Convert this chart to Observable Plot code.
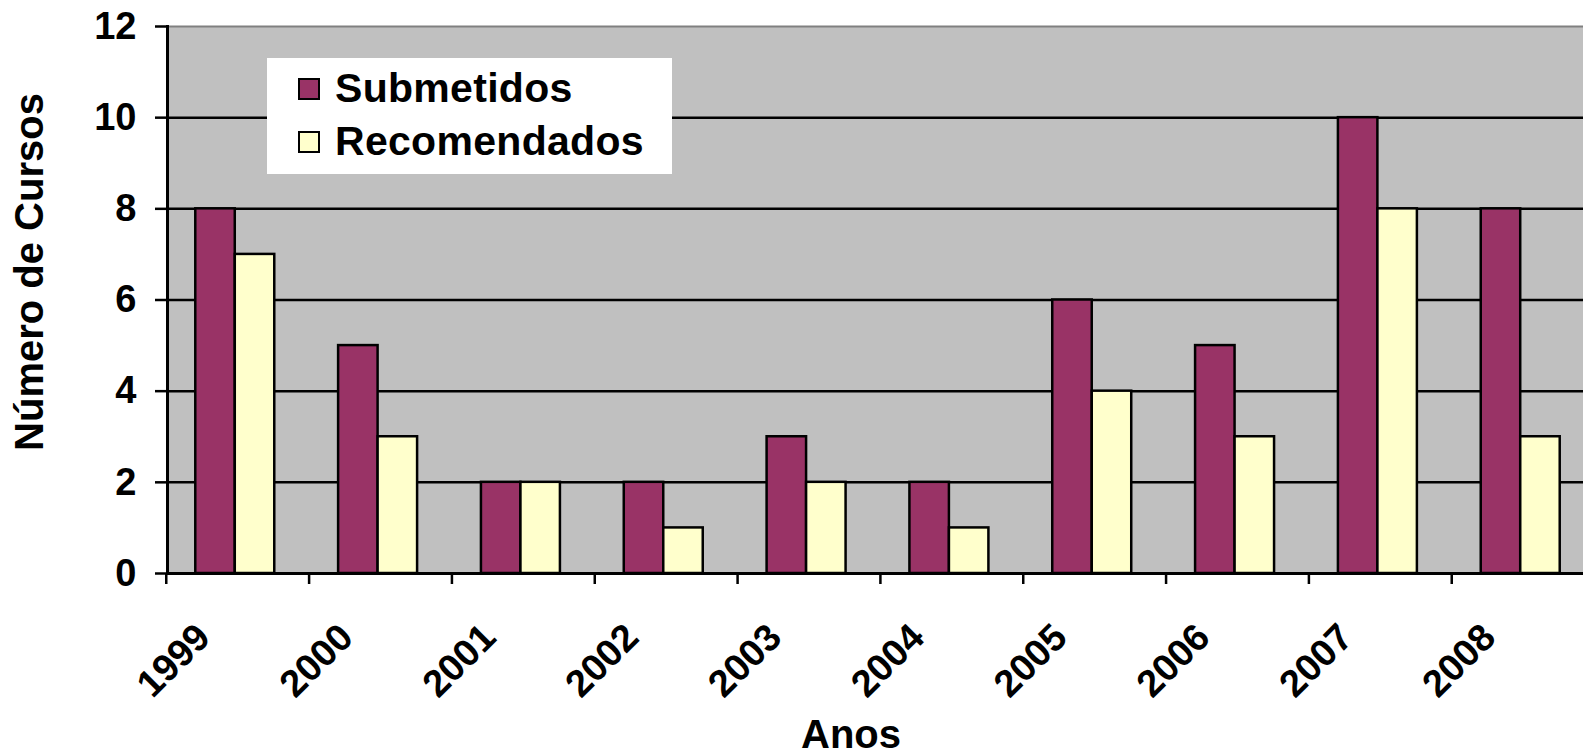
<!DOCTYPE html>
<html>
<head>
<meta charset="utf-8">
<script src="https://cdn.jsdelivr.net/npm/d3@7"></script>
<script src="https://cdn.jsdelivr.net/npm/@observablehq/plot@0.6"></script>
<style>
  html, body { margin: 0; padding: 0; overflow: hidden; background: #fff; }
  #wrap { position: relative; width: 1583px; height: 755px; overflow: hidden; }
  #legend {
    position: absolute; left: 267px; top: 58px; width: 405px; height: 116px;
    background: #fff; font-family: "Liberation Sans", Arial, sans-serif; font-weight: bold;
    font-size: 41px; color: #000;
  }
  .item { position: absolute; left: 31px; display: flex; align-items: center; letter-spacing: 0.3px; line-height: 47px; }
  .sw { width: 18px; height: 18px; border: 2.5px solid #000; margin-right: 15px; }
</style>
</head>
<body>
<div id="wrap"></div>
<script>
const years = ["1999","2000","2001","2002","2003","2004","2005","2006","2007","2008"];
const submetidos = [8, 5, 2, 2, 3, 2, 6, 5, 10, 8];
const recomendados = [7, 3, 2, 1, 2, 1, 4, 3, 8, 3];
const seriesNames = ["Submetidos", "Recomendados"];
const seriesColors = ["#993366", "#FFFFCC"];
const yTicks = [0, 2, 4, 6, 8, 10, 12];
const xTitle = "Anos";
const yTitle = "Número de Cursos";

const font = "'Liberation Sans', Arial, sans-serif";

const chart = Plot.plot({
  width: 1588,
  height: 755,
  marginLeft: 167,
  marginRight: 0,
  marginTop: 26,
  marginBottom: 182,
  style: {fontFamily: font, fontWeight: "bold", color: "#000", background: "#fff", maxWidth: "none"},
  x: {domain: years, paddingInner: 0.447, paddingOuter: 0.198, round: false},
  y: {domain: [0, 12]},
  marks: [
    Plot.frame({fill: "#C0C0C0", stroke: "#808080", strokeWidth: 2}),
    Plot.gridY(yTicks.slice(0, -1), {stroke: "#000", strokeOpacity: 1, strokeWidth: 2.5}),
    Plot.barY(years, {x: d => d, y: (d, i) => submetidos[i], fill: seriesColors[0], stroke: "#000", strokeWidth: 2.5, insetRight: 39.5}),
    Plot.barY(years, {x: d => d, y: (d, i) => recomendados[i], fill: seriesColors[1], stroke: "#000", strokeWidth: 2.5, insetLeft: 39.5}),
    Plot.ruleY([0], {stroke: "#000", strokeWidth: 3}),
    Plot.frame({anchor: "left", stroke: "#000", strokeWidth: 3}),
    Plot.axisY({ticks: yTicks, tickSize: 12, tickPadding: 19, fontSize: 38, fontWeight: "bold", strokeWidth: 2.5, label: null}),
    Plot.axisX({tickSize: 11, fill: "none", strokeWidth: 2.5, dx: -69, label: null}),
    Plot.text(years, {x: d => d, text: d => d, frameAnchor: "bottom", rotate: -45, textAnchor: "end", lineAnchor: "bottom", dx: -23, dy: 66, fontSize: 38, fontWeight: "bold"}),
    Plot.text([xTitle], {text: d => d, frameAnchor: "bottom", lineAnchor: "middle", dx: -27, dy: 162, fontSize: 40, fontWeight: "bold"}),
    Plot.text([yTitle], {text: d => d, frameAnchor: "left", rotate: -90, textAnchor: "middle", lineAnchor: "middle", dx: -137, dy: -28, fontSize: 40, fontWeight: "bold"})
  ]
});

const wrap = document.getElementById("wrap");
wrap.appendChild(chart);

const legend = document.createElement("div");
legend.id = "legend";
const tops = [7, 60];
seriesNames.forEach((name, i) => {
  const item = document.createElement("div");
  item.className = "item";
  item.style.top = tops[i] + "px";
  const sw = document.createElement("div");
  sw.className = "sw";
  sw.style.background = seriesColors[i];
  const label = document.createElement("span");
  label.textContent = name;
  item.appendChild(sw);
  item.appendChild(label);
  legend.appendChild(item);
});
wrap.appendChild(legend);
</script>
</body>
</html>
